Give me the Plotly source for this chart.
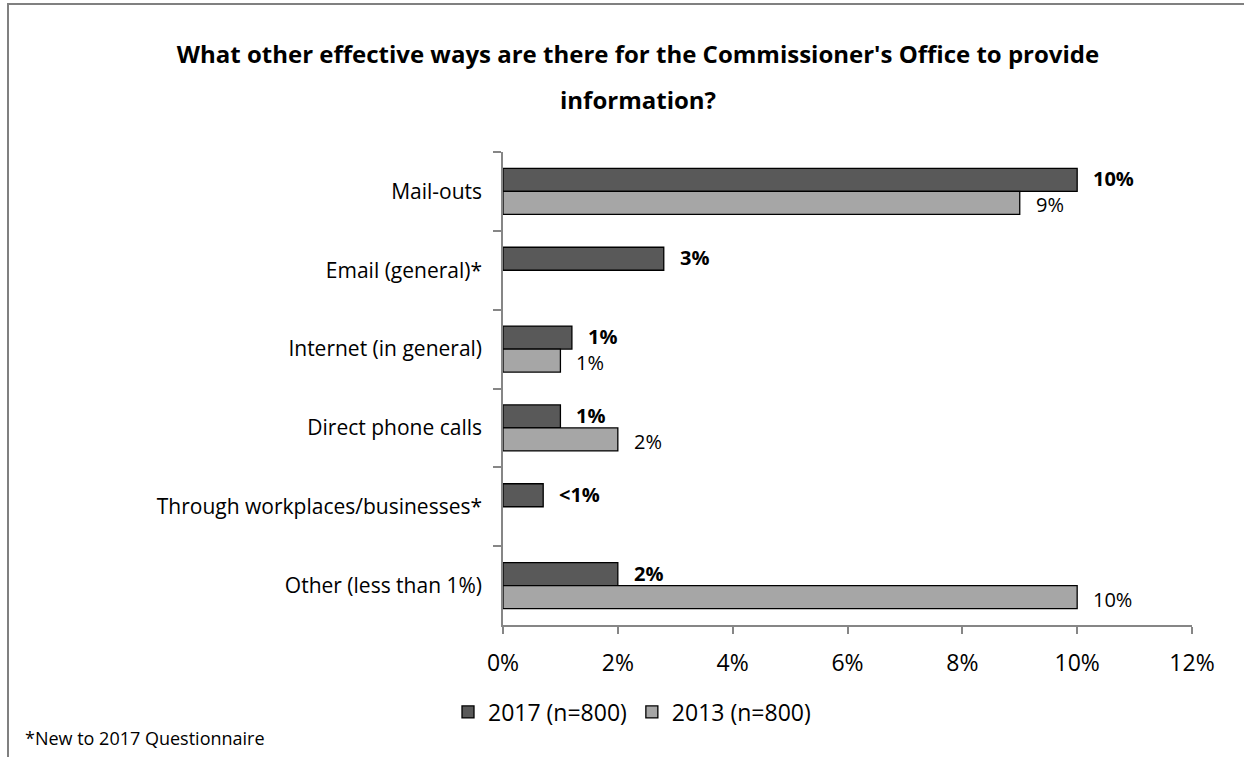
import plotly.graph_objects as go

categories = [
    "Mail-outs",
    "Email (general)*",
    "Internet (in general)",
    "Direct phone calls",
    "Through workplaces/businesses*",
    "Other (less than 1%)",
]
values_2017 = [10.0, 2.8, 1.2, 1.0, 0.7, 2.0]
values_2013 = [9.0, None, 1.0, 2.0, None, 10.0]
series_names = ["2017 (n=800)", "2013 (n=800)"]
x_ticks = [0, 2, 4, 6, 8, 10, 12]
x_tick_labels = ["0%", "2%", "4%", "6%", "8%", "10%", "12%"]
title_lines = ["What other effective ways are there for the Commissioner's Office to provide",
               "information?"]
footnote = "*New to 2017 Questionnaire"

FONT = "Open Sans"
DARK = "#595959"
LIGHT = "#a6a6a6"
AXIS = "#868686"

# plot area in pixels
W, H = 1244, 757
L, R, T, B = 503, 52, 152, 132
PW, PH = W - L - R, H - T - B


def px_x(p):
    return (p - L) / PW


def px_y(p):
    return (H - B - p) / PH


def pct_label(v):
    return "<1%" if v < 1 else f"{round(v)}%"


fig = go.Figure()
for name, vals, col in [(series_names[0], values_2017, DARK),
                        (series_names[1], values_2013, LIGHT)]:
    fig.add_trace(go.Bar(
        name=name, y=categories, x=vals, orientation="h",
        marker=dict(color=col, line=dict(color="#000000", width=1.3)),
        hoverinfo="skip",
    ))

# value labels beside each bar (2017 bold, above; 2013 regular, below)
annotations = []
for vals, bold, shift in [(values_2017, True, 12.5), (values_2013, False, -13.5)]:
    for cat, v in zip(categories, vals):
        if v is None:
            continue
        txt = pct_label(v)
        annotations.append(dict(
            x=v, y=cat, xref="x", yref="y", text=f"<b>{txt}</b>" if bold else txt,
            showarrow=False, xanchor="left", yanchor="middle",
            xshift=14, yshift=shift,
            font=dict(family=FONT, size=20, color="#000000"),
        ))

# second line of the title
annotations.append(dict(
    x=px_x(638), y=px_y(99), xref="paper", yref="paper",
    text=f"<b>{title_lines[1]}</b>", showarrow=False,
    xanchor="center", yanchor="middle",
    font=dict(family=FONT, size=24, color="#000000"),
))

annotations.append(dict(
    x=px_x(23), y=px_y(738), xref="paper", yref="paper",
    text=footnote, showarrow=False,
    xanchor="left", yanchor="middle",
    font=dict(family=FONT, size=18, color="#000000"),
))

fig.update_layout(
    width=W, height=H,
    margin=dict(l=L, r=R, t=T, b=B, pad=0),
    paper_bgcolor="#ffffff", plot_bgcolor="#ffffff",
    barmode="group", bargap=0.416, bargroupgap=0,
    title=dict(
        text=f"<b>{title_lines[0]}</b>",
        x=px_x(638), xref="paper", xanchor="center",
        y=1 - 55 / H, yanchor="middle",
        font=dict(family=FONT, size=24, color="#000000"),
    ),
    xaxis=dict(
        range=[0, 12], tickvals=x_ticks, ticktext=x_tick_labels,
        showgrid=False, zeroline=False,
        showline=True, linecolor=AXIS, linewidth=1.5,
        ticks="outside", ticklen=7, tickcolor=AXIS, tickwidth=1.5,
        ticklabelstandoff=10,
        tickfont=dict(family=FONT, size=23, color="#000000"),
        fixedrange=True,
    ),
    yaxis=dict(
        categoryorder="array", categoryarray=categories, autorange="reversed",
        showgrid=False, zeroline=False,
        showline=True, linecolor=AXIS, linewidth=1.5,
        ticks="outside", ticklen=8, tickcolor=AXIS, tickwidth=1.5,
        tickson="boundaries", ticklabelstandoff=15,
        tickfont=dict(family=FONT, size=21, color="#000000"),
        fixedrange=True,
    ),
    showlegend=True,
    legend=dict(
        orientation="h", x=px_x(448), y=px_y(712), xanchor="left", yanchor="middle",
        xref="paper", yref="paper",
        font=dict(family=FONT, size=23, color="#000000"),
        itemwidth=30, bgcolor="rgba(0,0,0,0)",
    ),
    annotations=annotations,
    shapes=[dict(
        type="rect", xref="paper", yref="paper",
        x0=px_x(8), x1=px_x(1260), y0=px_y(775), y1=px_y(4),
        line=dict(color="#808080", width=2), fillcolor="rgba(0,0,0,0)",
        layer="below",
    )],
)

fig.write_html("out.html", config={"displayModeBar": False})
